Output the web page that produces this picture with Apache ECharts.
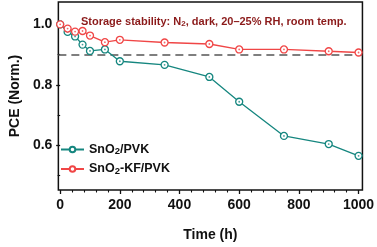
<!DOCTYPE html>
<html>
<head>
<meta charset="utf-8">
<script src="https://cdn.jsdelivr.net/npm/echarts@6/dist/echarts.min.js"></script>
<style>
  html, body { margin: 0; padding: 0; background: #fff; }
  #chart { width: 377px; height: 247px; }
</style>
</head>
<body>
<div id="chart"></div>
<script>
// storage time (h) and normalized PCE
const timeHours = [0, 25, 50, 75, 100, 150, 200, 350, 500, 600, 750, 900, 1000];
const pceSnO2 = [1.0, 0.975, 0.960, 0.933, 0.912, 0.917, 0.878, 0.866, 0.826, 0.744, 0.631, 0.604, 0.565];
const pceSnO2KF = [1.0, 0.986, 0.976, 0.978, 0.963, 0.941, 0.949, 0.940, 0.935, 0.917, 0.917, 0.911, 0.907];
const seriesNames = ["SnO2/PVK", "SnO2-KF/PVK"];
const xMajorTicks = [0, 200, 400, 600, 800, 1000];
const xMinorTicks = [40, 80, 120, 160, 240, 280, 320, 360, 440, 480, 520, 560, 640, 680, 720, 760, 840, 880, 920, 960];
const yMajorTicks = [0.6, 0.8, 1.0];
const yMinorTicks = [0.5, 0.7, 0.9];
const threshold = 0.9;

const FONT = "'Liberation Sans', Arial, sans-serif";
const TEAL = "#15867f";
const RED = "#f04646";

const chart = echarts.init(document.getElementById("chart"));

const toPairs = (ys) => timeHours.map((t, i) => [t, ys[i]]);

// "SnO2/PVK" -> rich text with subscript 2
const subFmt = (name) => {
  const parts = name.split("O2");
  return "{a|" + parts[0] + "O}{s|2}{a|" + parts[1] + "}";
};

const lineSeries = (name, ys, color, z) => ({
  name: name,
  type: "line",
  data: toPairs(ys),
  z: z,
  symbol: "circle",
  symbolSize: 7,
  lineStyle: { color: color, width: 1.3 },
  itemStyle: { color: "#fff", borderColor: color, borderWidth: 1.3 },
});

// center dots of the open markers
const dotSeries = (ys, color, z) => ({
  type: "scatter",
  data: toPairs(ys),
  z: z,
  silent: true,
  symbol: "circle",
  symbolSize: 1.8,
  itemStyle: { color: color },
});

const option = {
  animation: false,
  grid: {
    left: 48, right: 13, top: 2, bottom: 52,
    show: true, borderColor: "#111", borderWidth: 1.5,
  },
  title: {
    text: "{t|Storage stability: N}{s|2}{t|, dark, 20–25% RH, room temp.}",
    left: 76, top: 10,
    textStyle: {
      rich: {
        t: { fontFamily: FONT, fontSize: 11, fontWeight: "bold", color: "#8b1a1a", lineHeight: 13 },
        s: { fontFamily: FONT, fontSize: 8, fontWeight: "bold", color: "#8b1a1a", verticalAlign: "bottom", lineHeight: 13 },
      },
    },
  },
  legend: {
    data: seriesNames,
    orient: "vertical",
    left: 55, top: 138,
    itemWidth: 23, itemHeight: 7, itemGap: 6,
    formatter: subFmt,
    textStyle: {
      rich: {
        a: { fontFamily: FONT, fontSize: 12.5, fontWeight: "bold", color: "#111", lineHeight: 14 },
        s: { fontFamily: FONT, fontSize: 9.5, fontWeight: "bold", color: "#111", verticalAlign: "bottom", lineHeight: 14 },
      },
    },
  },
  xAxis: [
    {
      type: "value", min: -6, max: 1013,
      name: "Time (h)", nameLocation: "middle", nameGap: 38,
      nameTextStyle: { fontFamily: FONT, fontSize: 14, fontWeight: "bold", color: "#111" },
      axisLine: { show: false },
      splitLine: { show: false },
      axisTick: { customValues: xMajorTicks, length: 4, lineStyle: { color: "#111", width: 1.3 } },
      axisLabel: {
        customValues: xMajorTicks, margin: 8,
        formatter: (v) => String(v),
        fontFamily: FONT, fontSize: 14, fontWeight: "bold", color: "#111",
      },
    },
    {
      type: "value", min: -6, max: 1013, position: "bottom",
      axisLine: { show: false }, splitLine: { show: false }, axisLabel: { show: false },
      axisTick: { customValues: xMinorTicks, length: 2.5, lineStyle: { color: "#111", width: 1.1 } },
    },
  ],
  yAxis: [
    {
      type: "value", min: 0.452, max: 1.074,
      name: "PCE (Norm.)", nameLocation: "middle", nameGap: 33,
      nameTextStyle: { fontFamily: FONT, fontSize: 14, fontWeight: "bold", color: "#111" },
      axisLine: { show: false },
      splitLine: { show: false },
      axisTick: { customValues: yMajorTicks, length: 4, lineStyle: { color: "#111", width: 1.3 } },
      axisLabel: {
        customValues: yMajorTicks, margin: 6,
        formatter: (v) => v.toFixed(1),
        fontFamily: FONT, fontSize: 14, fontWeight: "bold", color: "#111",
      },
    },
    {
      type: "value", min: 0.452, max: 1.074, position: "left",
      axisLine: { show: false }, splitLine: { show: false }, axisLabel: { show: false },
      axisTick: { customValues: yMinorTicks, length: 2.5, lineStyle: { color: "#111", width: 1.1 } },
    },
  ],
  series: [
    lineSeries(seriesNames[0], pceSnO2, TEAL, 3),
    dotSeries(pceSnO2, TEAL, 4),
    Object.assign(lineSeries(seriesNames[1], pceSnO2KF, RED, 5), {
      markLine: {
        silent: true, symbol: "none", label: { show: false },
        lineStyle: { color: "#555", type: [8, 5], width: 1.5 },
        data: [{ yAxis: threshold }],
        z: 1,
      },
    }),
    dotSeries(pceSnO2KF, RED, 6),
  ],
};

chart.setOption(option);
</script>
</body>
</html>
